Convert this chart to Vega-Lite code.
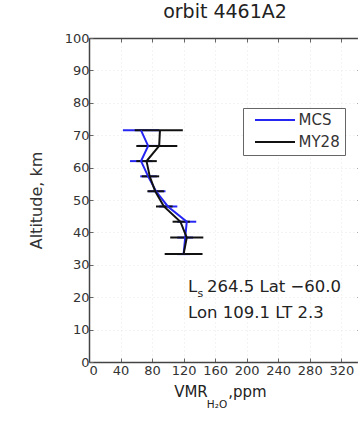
{
  "$schema": "https://vega.github.io/schema/vega-lite/v6.json",
  "autosize": {"type": "none"},
  "padding": {"left": 89, "top": 38, "right": 0, "bottom": 61},
  "width": 272,
  "height": 324,
  "background": "white",
  "title": {"text": "orbit 4461A2", "font": "DejaVu Sans", "fontSize": 19, "fontWeight": "normal", "color": "#222", "offset": 10, "anchor": "middle"},
  "config": {
    "font": "DejaVu Sans",
    "view": {"stroke": null},
    "axis": {
      "domainColor": "#444", "domainWidth": 1.5,
      "tickColor": "#666", "tickSize": -4, "tickWidth": 1,
      "labelFont": "DejaVu Sans", "labelFontSize": 13, "labelColor": "#333", "labelOverlap": false,
      "titleFont": "DejaVu Sans", "titleFontWeight": "normal", "titleColor": "#333",
      "grid": false
    }
  },
  "resolve": {"axis": {"x": "independent", "y": "independent"}},
  "datasets": {
    "profiles": [
      {"source": "MCS", "alt": 71.5, "vmr": 66, "lo": 43, "hi": 89},
      {"source": "MCS", "alt": 66.7, "vmr": 75, "lo": 62, "hi": 88},
      {"source": "MCS", "alt": 62.0, "vmr": 66, "lo": 52, "hi": 80},
      {"source": "MCS", "alt": 57.3, "vmr": 75, "lo": 65, "hi": 86},
      {"source": "MCS", "alt": 52.7, "vmr": 85, "lo": 75, "hi": 97},
      {"source": "MCS", "alt": 48.0, "vmr": 100, "lo": 89, "hi": 112},
      {"source": "MCS", "alt": 43.3, "vmr": 124, "lo": 112, "hi": 136},
      {"source": "MCS", "alt": 38.4, "vmr": 122, "lo": 112, "hi": 132},
      {"source": "MCS", "alt": 33.3, "vmr": 120, "lo": 112, "hi": 128},
      {"source": "MY28", "alt": 71.5, "vmr": 90, "lo": 58, "hi": 119},
      {"source": "MY28", "alt": 66.7, "vmr": 89, "lo": 60, "hi": 112},
      {"source": "MY28", "alt": 62.0, "vmr": 73, "lo": 60, "hi": 86},
      {"source": "MY28", "alt": 57.3, "vmr": 77, "lo": 67, "hi": 89},
      {"source": "MY28", "alt": 52.7, "vmr": 84, "lo": 74, "hi": 95},
      {"source": "MY28", "alt": 48.0, "vmr": 95, "lo": 85, "hi": 106},
      {"source": "MY28", "alt": 43.3, "vmr": 116, "lo": 106, "hi": 128},
      {"source": "MY28", "alt": 38.4, "vmr": 124, "lo": 103, "hi": 145},
      {"source": "MY28", "alt": 33.3, "vmr": 120, "lo": 96, "hi": 144}
    ]
  },
  "layer": [
    {
      "data": {"values": [{"top": 100}]},
      "mark": {"type": "rule", "opacity": 0},
      "encoding": {
        "x": {"datum": 0, "type": "quantitative", "scale": {"domain": [0, 345], "nice": false, "zero": false},
              "axis": {"orient": "top", "values": [0, 40, 80, 120, 160, 200, 240, 280, 320], "labels": false, "title": null}},
        "y": {"field": "top", "type": "quantitative", "scale": {"domain": [0, 100], "nice": false},
              "axis": {"orient": "right", "values": [0, 10, 20, 30, 40, 50, 60, 70, 80, 90, 100], "labels": false, "title": null}}
      }
    },
    {
      "data": {"name": "profiles"},
      "mark": {"type": "rule", "strokeWidth": 2},
      "encoding": {
        "x": {"field": "lo", "type": "quantitative",
              "axis": {"values": [0, 40, 80, 120, 160, 200, 240, 280, 320], "title": null, "labelPadding": 6,
                       "grid": true, "gridColor": "#e9e9e9", "gridDash": [1, 3]}},
        "x2": {"field": "hi"},
        "y": {"field": "alt", "type": "quantitative",
              "axis": {"values": [0, 10, 20, 30, 40, 50, 60, 70, 80, 90, 100], "title": "Altitude, km", "titleFontSize": 16, "titlePadding": 20, "labelPadding": 4,
                       "grid": true, "gridColor": "#e9e9e9", "gridDash": [1, 3]}},
        "color": {"field": "source", "type": "nominal",
                  "scale": {"domain": ["MCS", "MY28"], "range": ["#2626f2", "#111111"]},
                  "legend": {"orient": "none", "legendX": 154, "legendY": 70, "title": null,
                             "strokeColor": "#666", "fillColor": "white", "padding": 4.5,
                             "symbolType": "M-4,0H4", "symbolSize": 100, "symbolStrokeWidth": 2, "symbolOffset": 20,
                             "labelFont": "DejaVu Sans", "labelFontSize": 15, "labelColor": "#333", "labelOffset": 16, "rowPadding": 6}}
      }
    },
    {
      "data": {"name": "profiles"},
      "mark": {"type": "line", "strokeWidth": 2},
      "encoding": {
        "x": {"field": "vmr", "type": "quantitative", "axis": null},
        "y": {"field": "alt", "type": "quantitative", "axis": null},
        "order": {"field": "alt", "type": "quantitative"},
        "color": {"field": "source", "type": "nominal"}
      }
    },
    {
      "data": {"values": [{"label": "L"}]},
      "mark": {"type": "text", "align": "left", "baseline": "alphabetic", "fontSize": 16.5, "color": "#222"},
      "encoding": {"x": {"datum": 125.6, "type": "quantitative", "axis": null}, "y": {"datum": 21.7, "type": "quantitative", "axis": null}, "text": {"field": "label"}}
    },
    {
      "data": {"values": [{"label": "s"}]},
      "mark": {"type": "text", "align": "left", "baseline": "alphabetic", "fontSize": 11, "color": "#222"},
      "encoding": {"x": {"datum": 137.7, "type": "quantitative", "axis": null}, "y": {"datum": 20.2, "type": "quantitative", "axis": null}, "text": {"field": "label"}}
    },
    {
      "data": {"values": [{"label": "264.5 Lat −60.0"}]},
      "mark": {"type": "text", "align": "left", "baseline": "alphabetic", "fontSize": 16.5, "color": "#222"},
      "encoding": {"x": {"datum": 149.7, "type": "quantitative", "axis": null}, "y": {"datum": 21.7, "type": "quantitative", "axis": null}, "text": {"field": "label"}}
    },
    {
      "data": {"values": [{"label": "Lon 109.1 LT 2.3"}]},
      "mark": {"type": "text", "align": "left", "baseline": "alphabetic", "fontSize": 16.5, "color": "#222"},
      "encoding": {"x": {"datum": 125.6, "type": "quantitative", "axis": null}, "y": {"datum": 13.5, "type": "quantitative", "axis": null}, "text": {"field": "label"}}
    },
    {
      "data": {"values": [{"label": "VMR"}]},
      "mark": {"type": "text", "align": "left", "baseline": "alphabetic", "fontSize": 15, "color": "#222"},
      "encoding": {"x": {"datum": 108, "type": "quantitative", "axis": null}, "y": {"datum": -10.8, "type": "quantitative", "axis": null}, "text": {"field": "label"}}
    },
    {
      "data": {"values": [{"label": "H₂O"}]},
      "mark": {"type": "text", "align": "left", "baseline": "alphabetic", "fontSize": 10.5, "color": "#222"},
      "encoding": {"x": {"datum": 149.5, "type": "quantitative", "axis": null}, "y": {"datum": -14.3, "type": "quantitative", "axis": null}, "text": {"field": "label"}}
    },
    {
      "data": {"values": [{"label": ",ppm"}]},
      "mark": {"type": "text", "align": "left", "baseline": "alphabetic", "fontSize": 15, "color": "#222"},
      "encoding": {"x": {"datum": 176.5, "type": "quantitative", "axis": null}, "y": {"datum": -10.8, "type": "quantitative", "axis": null}, "text": {"field": "label"}}
    }
  ]
}
